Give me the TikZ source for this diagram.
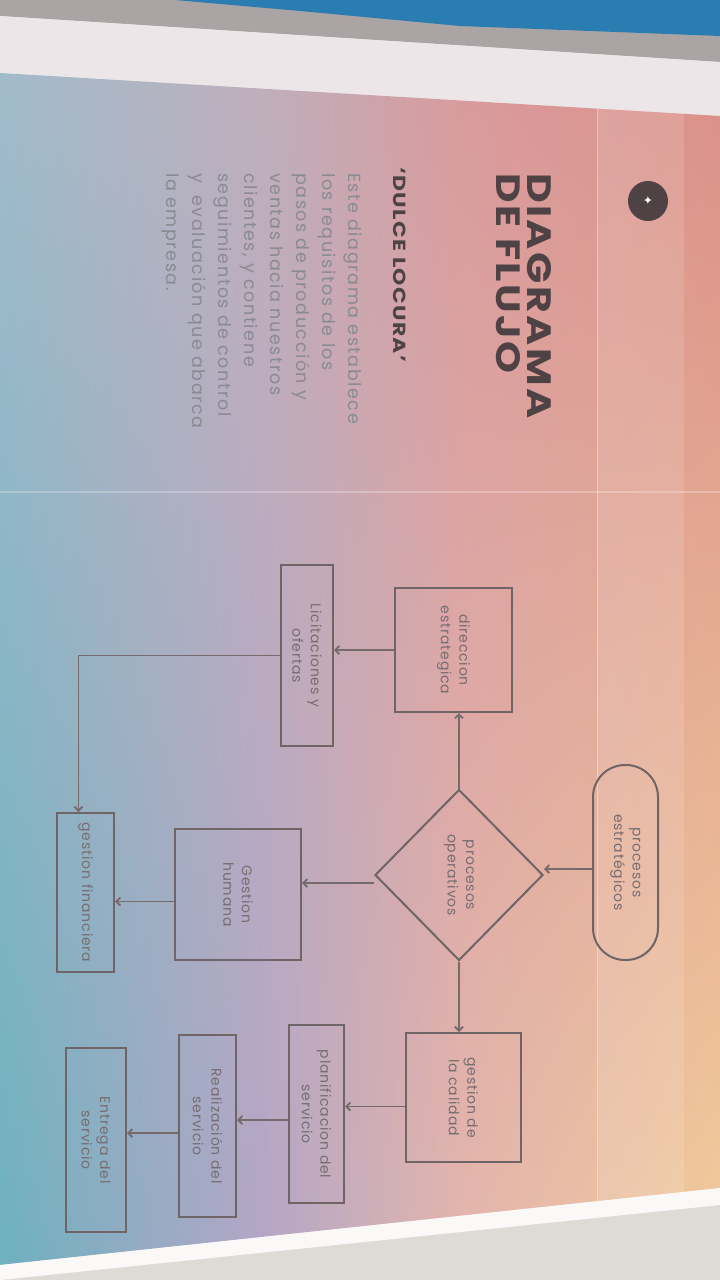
\documentclass[tikz,border=0pt]{standalone}
\usepackage{fontspec}
\setmainfont{Poppins}
\newfontfamily\boxfont[LetterSpace=6]{Poppins}
\newfontfamily\parafont[LetterSpace=9]{Poppins}
\newfontfamily\titlefont[LetterSpace=6]{Poppins}
\newfontfamily\symfont{DejaVu Sans}
\usetikzlibrary{shapes.geometric,arrows.meta,calc,shadings}
\definecolor{boxc}{HTML}{6F6466}
\definecolor{linec}{HTML}{756A6C}
\definecolor{txtc}{HTML}{776D70}
\definecolor{darkc}{HTML}{4E4244}
\definecolor{parac}{HTML}{8A8A92}
\definecolor{A0}{HTML}{A2BBCB}
\definecolor{A1}{HTML}{BFAFBC}
\definecolor{A2}{HTML}{D89A9C}
\definecolor{A3}{HTML}{DA8F88}
\definecolor{B0}{HTML}{6DB1BF}
\definecolor{B1}{HTML}{B3A6C6}
\definecolor{B2}{HTML}{E3B6AE}
\definecolor{B3}{HTML}{F2CC9C}
\definecolor{carpet}{HTML}{2A7DB0}
\definecolor{shadowc}{HTML}{ABA4A4}
\definecolor{paperc}{HTML}{ECE6E8}
\definecolor{floorc}{HTML}{DEDAD5}
\tikzset{
  box/.style={draw=boxc, line width=2pt, rotate=-90, inner sep=0pt, align=center,
    text=txtc, font={\boxfont\fontsize{14}{18.5}\selectfont}},
  arr/.style={draw=linec, line width=1.8pt, -{Straight Barb[length=4pt,width=8pt]}},
  vtext/.style={rotate=-90, inner sep=0pt}
}
\begin{document}
\begin{tikzpicture}[x=1pt,y=-1pt]
\useasboundingbox (0,0) rectangle (720,1280);
% ---------- photo background ----------
\fill[floorc] (0,0) rectangle (720,1280);
\fill[shadowc] (0,0) -- (720,0) -- (720,62) -- (0,16) -- cycle;
\fill[carpet] (175,0) -- (720,0) -- (720,36) -- (460,26) -- (300,11) -- cycle;
\fill[paperc] (0,16) -- (720,62) -- (720,120) -- (0,76) -- cycle;
\begin{scope}
  \clip (0,73) -- (720,116) -- (720,1188) -- (0,1265) -- cycle;
  \shade[upper left=A0, upper right=A1, lower left=B0, lower right=B1] (0,60) rectangle (260,1270);
  \shade[upper left=A1, upper right=A2, lower left=B1, lower right=B2] (260,60) rectangle (460,1270);
  \shade[upper left=A2, upper right=A3, lower left=B2, lower right=B3] (460,60) rectangle (720,1270);
  \fill[white, opacity=0.12] (597,60) rectangle (684,1270);
  \draw[white, opacity=0.35, line width=1pt] (597,60) -- (597,1270);
  \draw[white, opacity=0.25, line width=2pt] (0,492) -- (720,492);
\end{scope}
\fill[white, opacity=0.85] (0,1265) -- (720,1188) -- (720,1205) -- (0,1280) -- cycle;
% ---------- header ----------
\node[circle, fill=darkc, minimum size=40pt, inner sep=0pt] (dot) at (648,201) {};
\node[vtext, text=white, font={\symfont\fontsize{12}{12}\selectfont}] (star) at (dot.center) {✦};
\node[vtext, anchor=base west, text=darkc] (t1) at (527,173)
  {\resizebox{245pt}{24pt}{\titlefont\bfseries DIAGRAMA}};
\node[vtext, anchor=base west, text=darkc] (t2) at (496,173)
  {\resizebox{200pt}{24pt}{\titlefont\bfseries DE FLUJO}};
\node[vtext, anchor=base west, text=darkc] (t3) at (393,167)
  {\resizebox{195pt}{12.5pt}{\titlefont\bfseries ‘DULCE LOCURA’}};
\node[vtext, anchor=north west, align=left, text=parac,
  font={\parafont\fontsize{17.5}{26}\selectfont}] (para) at (362,173)
  {Este diagrama establece\\los requisitos de los\\pasos de producción y\\ventas hacia nuestros\\clientes, y contiene\\seguimientos de control\\y\ \ evaluación que abarca\\la empresa.};
% ---------- flowchart ----------
\node[box, rounded corners=32pt, minimum width=195pt, minimum height=65pt] (est) at (625.5,862.5) {procesos\\estratégicos};
\node[box, diamond, aspect=1, minimum width=171pt, minimum height=168pt] (diam) at (459,875) {procesos\\operativos};
\node[box, minimum width=124pt, minimum height=117pt] (dir) at (453.5,650) {direccion\\estrategica};
\node[box, minimum width=181pt, minimum height=52pt] (lic) at (307,655.5) {Licitaciones y\\ofertas};
\node[box, minimum width=159pt, minimum height=57pt] (fin) at (85.5,892.5) {gestion financiera};
\node[box, minimum width=131pt, minimum height=126pt] (hum) at (238,894.5) {Gestion\\humana};
\node[box, minimum width=129pt, minimum height=115pt] (cal) at (463.5,1097.5) {gestion de\\la calidad};
\node[box, minimum width=178pt, minimum height=55pt] (pla) at (316.5,1114) {planificacion del\\servicio};
\node[box, minimum width=182pt, minimum height=57pt] (rea) at (207.5,1126) {Realización del\\servicio};
\node[box, minimum width=184pt, minimum height=60pt] (ent) at (96,1140) {Entrega del\\servicio};
% ---------- connectors ----------
\draw[arr] ([yshift=6pt]est.south |- diam.north) -- ([yshift=6pt]diam.north);
\draw[arr] (diam.west) -- (diam.west |- dir.east);
\draw[arr] (dir.south) -- (dir.south -| lic.north);
\draw[arr] (lic.south) -| ([xshift=-7pt]fin.west);
\draw[arr] ([yshift=-8pt]diam.south) -- ([yshift=-8pt]diam.south -| hum.north);
\draw[arr] ([yshift=-7pt]hum.south) -- ([yshift=-7pt]hum.south -| fin.north);
\draw[arr] (diam.east) -- (diam.east |- cal.west);
\draw[arr] ([yshift=-9pt]cal.south) -- ([yshift=-9pt]cal.south -| pla.north);
\draw[arr] ([yshift=-6pt]pla.south) -- ([yshift=-6pt]pla.south -| rea.north);
\draw[arr] ([yshift=-7pt]rea.south) -- ([yshift=-7pt]rea.south -| ent.north);
\end{tikzpicture}
\end{document}
